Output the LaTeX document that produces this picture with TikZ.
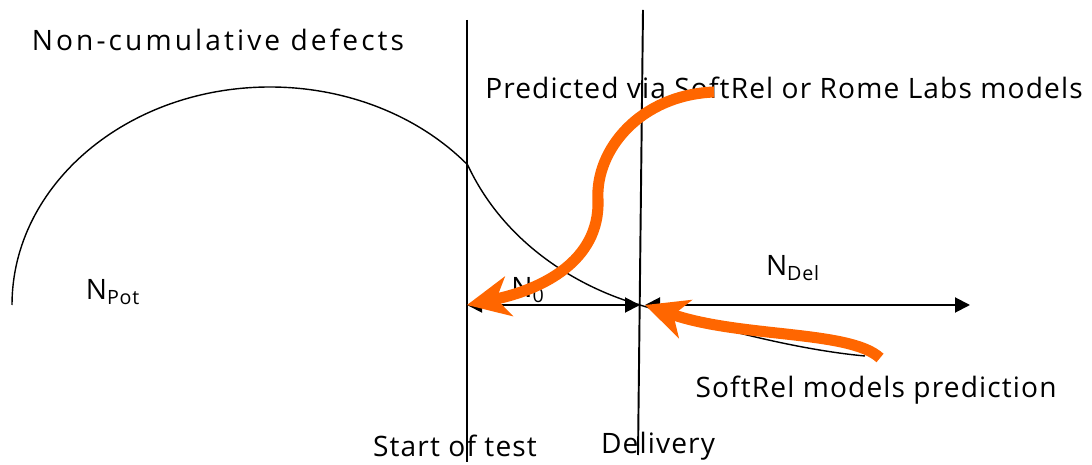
\documentclass[tikz,border=0pt]{standalone}
\usepackage{fontspec}
\setmainfont{Open Sans}[LetterSpace=4]
\usetikzlibrary{positioning}
\usetikzlibrary{arrows.meta}
\definecolor{relorange}{HTML}{FF6600}

\begin{document}
\begin{tikzpicture}[x=0.02cm,y=-0.02cm,
    lbl/.style={inner sep=0pt, font=\fontsize{16}{19}\selectfont},
    span/.style={line width=1.1pt, {Triangle[length=0.3cm,width=0.3cm]}-{Triangle[length=0.3cm,width=0.3cm]}},
    hint/.style={relorange, line width=6.3pt, -{Stealth[length=0.85cm,width=0.8cm,inset=0.25cm]}}]
  \useasboundingbox (0,0) rectangle (1092,465);

  % time marks
  \coordinate (ST top) at (467,20);
  \coordinate (ST bot) at (467,462);
  \coordinate (DL top) at (643,10);
  \coordinate (DL bot) at (638,455);
  \draw[line width=1.1pt] (ST top) -- (ST bot);
  \draw[line width=1.1pt] (DL top) -- (DL bot);

  % defect curve
  \draw[line width=0.8pt] (12,305) arc[start angle=180, end angle=320, x radius=258, y radius=218]
    .. controls (505,245) and (580,288) .. (640,305)
    .. controls (720,330) and (800,350) .. (865,356);

  % labels
  \node[lbl] (title) at (218,40)  {\addfontfeatures{LetterSpace=11}Non-cumulative defects};
  \node[lbl] (pred)  at (784,88)  {Predicted via SoftRel or Rome Labs models};
  \node[lbl] (NPot)  at (113,292) {N\textsubscript{Pot}};
  \node[lbl] (N0)    at (528,290) {N\textsubscript{0}};
  \node[lbl] (NDel)  at (793,268) {N\textsubscript{Del}};
  \node[lbl] (srp)   at (876,390) {SoftRel models prediction};
  \node[lbl] (start) at (455,446) {Start of test};
  \node[lbl] (deliv) at (658,446) {Delivery};

  % spans
  \coordinate (T0) at (467,305);
  \coordinate (TD) at (640,305);
  \coordinate (TDr) at (645,305);
  \coordinate (TE) at (970,305);
  \draw[span] (T0) -- (TD);
  \draw[span] (TDr) -- (TE);

  % model arrows
  \coordinate (P1) at (714,92);
  \coordinate (P2) at (880,358);
  \draw[hint] (P1) .. controls (640,95) and (595,150) .. (598,200)
    .. controls (600,262) and (540,290) .. (T0);
  \draw[hint] (P2) .. controls (850,330) and (740,338) .. (TDr);
\end{tikzpicture}
\end{document}
